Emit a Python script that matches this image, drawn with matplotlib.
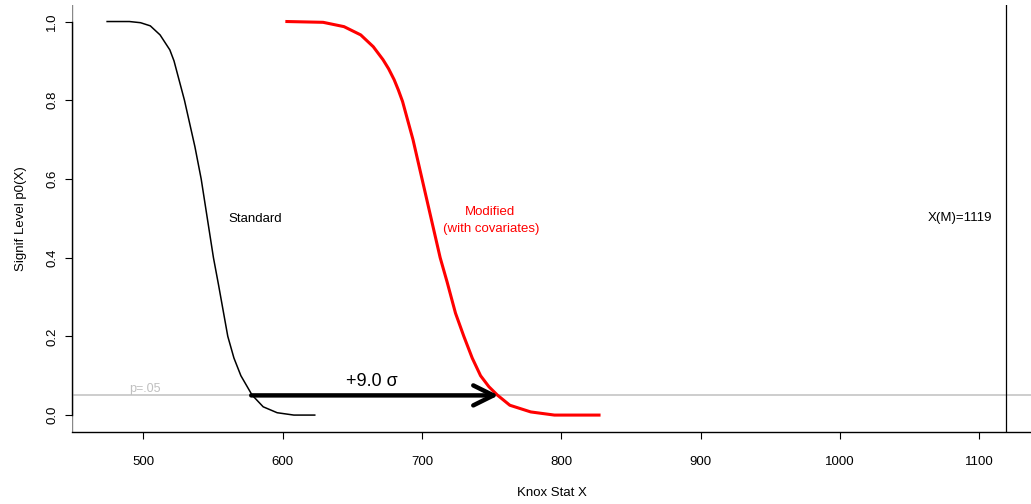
import matplotlib
matplotlib.use("Agg")
import matplotlib.pyplot as plt

plt.rcParams['font.family'] = ['Liberation Sans', 'DejaVu Sans']

# ---- data ----
std_x = [474, 490, 498, 505, 512, 519, 522, 529.5, 537, 541.5, 545.9, 550.3, 554, 560.6, 565, 570, 578, 586, 596, 608, 623]
std_y = [1.0, 1.0, 0.997, 0.989, 0.966, 0.928, 0.90, 0.80, 0.682, 0.60, 0.50, 0.40, 0.33, 0.20, 0.145, 0.10, 0.051, 0.021, 0.006, 0.0, 0.0]

mod_x = [603, 629, 644, 656, 665, 672, 676, 680, 683, 686, 693.5, 700, 706.5, 713, 718, 724, 730, 736, 742, 748, 754, 763, 778, 795, 827]
mod_y = [1.0, 0.998, 0.987, 0.966, 0.936, 0.903, 0.880, 0.852, 0.826, 0.797, 0.70, 0.60, 0.50, 0.40, 0.338, 0.259, 0.20, 0.145, 0.10, 0.072, 0.051, 0.025, 0.008, 0.0, 0.0]

p_level = 0.05
x_m = 1119
arrow_x = [577.4, 754.8]
x_ticks = [500, 600, 700, 800, 900, 1000, 1100]
y_ticks = [0.0, 0.2, 0.4, 0.6, 0.8, 1.0]

fig = plt.figure(figsize=(10.31, 5.04), dpi=100)
ax = fig.add_axes([72/1031, 72/504, 1 - 72/1031, (504 - 5 - 72)/504])

xmin, xmax = 448.8, 1137
ax.set_xlim(xmin, xmax)
ax.set_ylim(-0.043, 1.042)

ax.axhline(p_level, color='#c0c0c0', lw=1.1, zorder=1)
ax.axvline(x_m, color='black', lw=0.9, zorder=1)

ax.plot(std_x, std_y, color='black', lw=1.1, zorder=3, solid_joinstyle='round')
ax.plot(mod_x, mod_y, color='#ff0000', lw=2.2, zorder=3, solid_joinstyle='round')

ax.annotate('', xy=(arrow_x[1], p_level), xytext=(arrow_x[0], p_level),
            arrowprops=dict(arrowstyle='->,head_length=1.45,head_width=0.72',
                            lw=3.2, color='black', mutation_scale=10,
                            shrinkA=0, shrinkB=0), zorder=4)

ax.text(664, 0.086, '+9.0 σ', fontsize=13, ha='center', va='center')
ax.text(501, 0.067, 'p=.05', fontsize=9, color='#c0c0c0', ha='center', va='center')
ax.text(580, 0.497, 'Standard', fontsize=9.5, ha='center', va='center')
ax.text(749, 0.516, 'Modified', fontsize=9.5, color='#ff0000', ha='center', va='center')
ax.text(749.5, 0.473, '(with covariates)', fontsize=9.5, color='#ff0000', ha='center', va='center')
ax.text(1086, 0.50, 'X(M)=1119', fontsize=9.5, ha='center', va='center')

for s in ['top', 'right']:
    ax.spines[s].set_visible(False)
ax.spines['left'].set_bounds(0, 1)
ax.spines['left'].set_linewidth(1.0)
ax.spines['bottom'].set_linewidth(1.0)
ax.axvline(xmin, color='#888888', lw=1.0, zorder=0)

ax.set_xticks(x_ticks)
ax.set_xticklabels([str(v) for v in x_ticks])
ax.set_yticks(y_ticks)
ax.set_yticklabels([f'{v:.1f}' for v in y_ticks], rotation=90, va='center')
ax.tick_params(axis='both', length=5, width=0.8, labelsize=9.5, direction='out')
ax.tick_params(axis='x', pad=12)
ax.tick_params(axis='y', pad=5)

ax.set_xlabel('Knox Stat X', fontsize=9.5, labelpad=14)
ax.set_ylabel('Signif Level p0(X)', fontsize=9.5, labelpad=14)

fig.savefig('out.png', dpi=100)
